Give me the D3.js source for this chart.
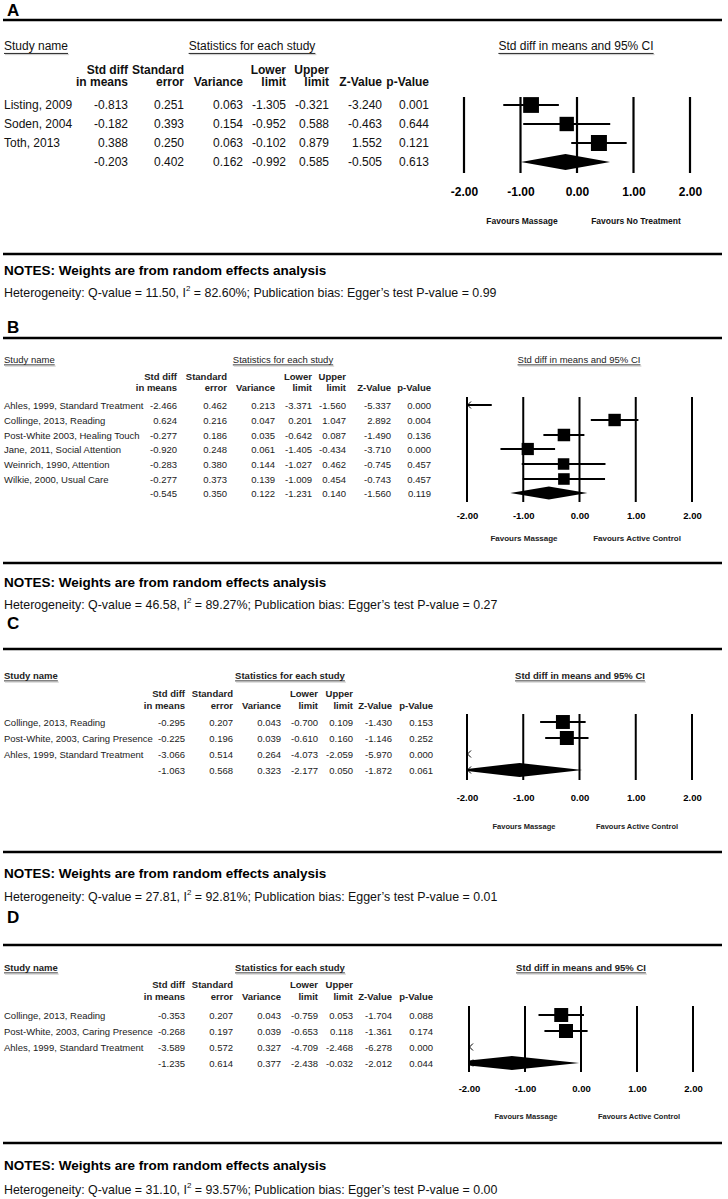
<!DOCTYPE html>
<html><head><meta charset="utf-8">
<script src="https://cdn.jsdelivr.net/npm/d3@7"></script>
<style>html,body{margin:0;padding:0;background:#fff}svg{display:block;font-family:"Liberation Sans",Arial,sans-serif}</style>
</head><body>
<svg id="c" width="728" height="1199"></svg>
<script>
// ---------- DATA ----------
const tickValues = [-2, -1, 0, 1, 2];
const colHeaders1 = ["Std diff", "Standard", "", "Lower", "Upper", "", ""];
const colHeaders2 = ["in means", "error", "Variance", "limit", "limit", "Z-Value", "p-Value"];

const studiesA = ["Listing, 2009", "Soden, 2004", "Toth, 2013"];
const smdA   = [-0.813, -0.182, 0.388, -0.203];
const seA    = [0.251, 0.393, 0.250, 0.402];
const varA   = [0.063, 0.154, 0.063, 0.162];
const lowerA = [-1.305, -0.952, -0.102, -0.992];
const upperA = [-0.321, 0.588, 0.879, 0.585];
const zA     = [-3.240, -0.463, 1.552, -0.505];
const pA     = [0.001, 0.644, 0.121, 0.613];
const weightA = [35, 29, 36];

const studiesB = ["Ahles, 1999, Standard Treatment", "Collinge, 2013, Reading", "Post-White 2003, Healing Touch",
  "Jane, 2011, Social Attention", "Weinrich, 1990, Attention", "Wilkie, 2000, Usual Care"];
const smdB   = [-2.466, 0.624, -0.277, -0.920, -0.283, -0.277, -0.545];
const seB    = [0.462, 0.216, 0.186, 0.248, 0.380, 0.373, 0.350];
const varB   = [0.213, 0.047, 0.035, 0.061, 0.144, 0.139, 0.122];
const lowerB = [-3.371, 0.201, -0.642, -1.405, -1.027, -1.009, -1.231];
const upperB = [-1.560, 1.047, 0.087, -0.434, 0.462, 0.454, 0.140];
const zB     = [-5.337, 2.892, -1.490, -3.710, -0.745, -0.743, -1.560];
const pB     = [0.000, 0.004, 0.136, 0.000, 0.457, 0.457, 0.119];
const weightB = [15.5, 17.9, 18.2, 17.4, 15.4, 15.6];

const studiesC = ["Collinge, 2013, Reading", "Post-White, 2003, Caring Presence", "Ahles, 1999, Standard Treatment"];
const smdC   = [-0.295, -0.225, -3.066, -1.063];
const seC    = [0.207, 0.196, 0.514, 0.568];
const varC   = [0.043, 0.039, 0.264, 0.323];
const lowerC = [-0.700, -0.610, -4.073, -2.177];
const upperC = [0.109, 0.160, -2.059, 0.050];
const zC     = [-1.430, -1.146, -5.970, -1.872];
const pC     = [0.153, 0.252, 0.000, 0.061];
const weightC = [34.7, 35.0, 30.3];

const studiesD = ["Collinge, 2013, Reading", "Post-White, 2003, Caring Presence", "Ahles, 1999, Standard Treatment"];
const smdD   = [-0.353, -0.268, -3.589, -1.235];
const seD    = [0.207, 0.197, 0.572, 0.614];
const varD   = [0.043, 0.039, 0.327, 0.377];
const lowerD = [-0.759, -0.653, -4.709, -2.438];
const upperD = [0.053, 0.118, -2.468, -0.032];
const zD     = [-1.704, -1.361, -6.278, -2.012];
const pD     = [0.088, 0.174, 0.000, 0.044];
const weightD = [34.9, 35.1, 30.0];

const panelLetters = ["A", "B", "C", "D"];
const favoursLeft = ["Favours Massage", "Favours Massage", "Favours Massage", "Favours Massage"];
const favoursRight = ["Favours No Treatment", "Favours Active Control", "Favours Active Control", "Favours Active Control"];
const qValues = [11.50, 46.58, 27.81, 31.10];
const i2Values = [82.60, 89.27, 92.81, 93.57];
const eggerP = [0.99, 0.27, 0.01, 0.00];

// ---------- LAYOUT ----------
const layouts = [
  {letterY:10, topLine:20, titleY:46, h1:70, h2:82, rows:[105,124,143,162], cols:[128,184,243,286,329,382,429],
   fx:[464,690], fTop:97, fBot:173, tickY:192, favY:221, favX:[522,636], botLine:254, notesY:270, hetY:293,
   fs:12, hfs:12, tfs:12, titleBold:false, tickFs:12, favFs:8.5, sqMax:16, dH:16, lw:2.2, statsX:252, forestX:576, textCol:"#111"},
  {letterY:327, topLine:338, titleY:359, h1:376, h2:387, rows:[405,420,435,449,464,479,493], cols:[177,227,275,312,346,391,431],
   fx:[467,692], fTop:397, fBot:502, tickY:515, favY:538, favX:[524,637], botLine:563, notesY:582, hetY:605,
   fs:9.5, hfs:9.5, tfs:9.5, titleBold:false, tickFs:9.5, favFs:8, sqMax:12.5, dH:13, lw:2, statsX:283, forestX:579, textCol:"#222"},
  {letterY:623, topLine:649, titleY:675, h1:693, h2:705, rows:[722,738,754,770], cols:[185,233,281,318,353,392,433],
   fx:[467,692], fTop:714, fBot:780, tickY:797, favY:826, favX:[524,637], botLine:852, notesY:873, hetY:897,
   fs:9.5, hfs:9.5, tfs:9.5, titleBold:true, tickFs:9.5, favFs:7.5, sqMax:14, dH:14, lw:2, statsX:290, forestX:580, textCol:"#222"},
  {letterY:917, topLine:945, titleY:967, h1:984, h2:996, rows:[1015,1031,1047,1063], cols:[185,233,281,318,353,392,433],
   fx:[469,693], fTop:1006, fBot:1072, tickY:1088, favY:1116, favX:[526,639], botLine:1143, notesY:1165, hetY:1190,
   fs:9.5, hfs:9.5, tfs:9.5, titleBold:true, tickFs:9.5, favFs:7.5, sqMax:14, dH:14, lw:2, statsX:290, forestX:581, textCol:"#222"}
];

const panels = [
  {studies:studiesA, cols:[smdA,seA,varA,lowerA,upperA,zA,pA], smd:smdA, lower:lowerA, upper:upperA, weight:weightA},
  {studies:studiesB, cols:[smdB,seB,varB,lowerB,upperB,zB,pB], smd:smdB, lower:lowerB, upper:upperB, weight:weightB},
  {studies:studiesC, cols:[smdC,seC,varC,lowerC,upperC,zC,pC], smd:smdC, lower:lowerC, upper:upperC, weight:weightC},
  {studies:studiesD, cols:[smdD,seD,varD,lowerD,upperD,zD,pD], smd:smdD, lower:lowerD, upper:upperD, weight:weightD}
];

const svg = d3.select("#c");
const fmt = v => v.toFixed(3);

function underlinedText(g, x, y, txt, size, bold, anchor, col) {
  const t = g.append("text").attr("x", x).attr("y", y).attr("dominant-baseline", "central")
    .attr("text-anchor", anchor).attr("font-size", size).attr("font-weight", bold ? "bold" : "normal")
    .attr("fill", col).text(txt);
  const w = t.node().getComputedTextLength();
  const x0 = anchor === "middle" ? x - w / 2 : x;
  g.append("line").attr("x1", x0).attr("x2", x0 + w).attr("y1", y + size * 0.62).attr("y2", y + size * 0.62)
    .attr("stroke", col).attr("stroke-width", 0.9);
  g.append("line").attr("x1", x0 + 1).attr("x2", x0 + w + 1).attr("y1", y + size * 0.62 + 1.2).attr("y2", y + size * 0.62 + 1.2)
    .attr("stroke", "#bbb").attr("stroke-width", 0.8);
}

panels.forEach((P, pi) => {
  const L = layouts[pi];
  const g = svg.append("g");
  const col = L.textCol;
  g.append("text").attr("x", 7).attr("y", L.letterY).attr("dominant-baseline", "central")
    .attr("font-size", 17).attr("font-weight", "bold").text(panelLetters[pi]);
  g.append("line").attr("x1", 3).attr("x2", 722).attr("y1", L.topLine).attr("y2", L.topLine)
    .attr("stroke", "#000").attr("stroke-width", 2.6);
  underlinedText(g, 4, L.titleY, "Study name", L.tfs, L.titleBold, "start", col);
  underlinedText(g, L.statsX, L.titleY, "Statistics for each study", L.tfs, L.titleBold, "middle", col);
  underlinedText(g, L.forestX, L.titleY, "Std diff in means and 95% CI", L.tfs, L.titleBold, "middle", col);
  colHeaders1.forEach((h, i) => {
    g.append("text").attr("x", L.cols[i]).attr("y", L.h1).attr("dominant-baseline", "central").attr("text-anchor", "end")
      .attr("font-size", L.hfs).attr("font-weight", "bold").attr("fill", col).text(h);
    g.append("text").attr("x", L.cols[i]).attr("y", L.h2).attr("dominant-baseline", "central").attr("text-anchor", "end")
      .attr("font-size", L.hfs).attr("font-weight", "bold").attr("fill", col).text(colHeaders2[i]);
  });
  const nRows = P.smd.length;
  d3.range(nRows).forEach(r => {
    if (r < P.studies.length) {
      g.append("text").attr("x", 4).attr("y", L.rows[r]).attr("dominant-baseline", "central")
        .attr("font-size", L.fs).attr("fill", col).text(P.studies[r]);
    }
    P.cols.forEach((arr, ci) => {
      g.append("text").attr("x", L.cols[ci]).attr("y", L.rows[r]).attr("dominant-baseline", "central").attr("text-anchor", "end")
        .attr("font-size", L.fs).attr("fill", col).text(fmt(arr[r]));
    });
  });
  const x = d3.scaleLinear().domain([tickValues[0], tickValues[tickValues.length - 1]]).range(L.fx);
  const [dMin, dMax] = x.domain();
  const clamp = v => Math.max(dMin, Math.min(dMax, v));
  const axis = d3.axisBottom(x).tickValues(tickValues).tickSize(0).tickFormat(d => d.toFixed(2));
  const ax = g.append("g").attr("transform", `translate(0,${L.tickY})`).call(axis);
  ax.select(".domain").remove();
  ax.selectAll("text").attr("y", 0).attr("dy", null).attr("dominant-baseline", "central")
    .attr("font-size", L.tickFs).attr("font-weight", "bold").attr("font-family", "Liberation Sans, Arial, sans-serif").attr("fill", "#000");
  g.selectAll(".vl").data(tickValues).enter().append("line")
    .attr("x1", d => x(d)).attr("x2", d => x(d)).attr("y1", L.fTop).attr("y2", L.fBot)
    .attr("stroke", "#000").attr("stroke-width", L.lw);
  const size = d3.scaleSqrt().domain([0, d3.max(P.weight)]).range([0, L.sqMax]);
  const arrow = (y) => {
    const x0 = x(dMin);
    g.append("path").attr("d", `M${x0 + 4},${y - 3.5}L${x0 + 0.5},${y}L${x0 + 4},${y + 3.5}`)
      .attr("fill", "none").attr("stroke", "#000").attr("stroke-width", 1);
  };
  P.studies.forEach((s, r) => {
    const y = L.rows[r];
    const lo = P.lower[r], hi = P.upper[r], m = P.smd[r];
    if (hi >= dMin && lo <= dMax) {
      g.append("line").attr("x1", x(clamp(lo))).attr("x2", x(clamp(hi))).attr("y1", y).attr("y2", y)
        .attr("stroke", "#000").attr("stroke-width", L.lw);
    }
    if (lo < dMin) arrow(y);
    if (m >= dMin && m <= dMax) {
      const sz = size(P.weight[r]);
      g.append("rect").attr("x", x(m) - sz / 2).attr("y", y - sz / 2).attr("width", sz).attr("height", sz).attr("fill", "#000");
    }
  });
  const sr = nRows - 1, sy = L.rows[sr];
  const slo = P.lower[sr], shi = P.upper[sr], sm = P.smd[sr], hh = L.dH / 2;
  const pts = [];
  if (slo < dMin) {
    const f = (dMin - slo) / (sm - slo) * hh;
    pts.push([x(dMin), sy + f], [x(dMin), sy - f]);
  } else pts.push([x(slo), sy]);
  pts.push([x(sm), sy - hh]);
  pts.push([x(shi), sy]);
  pts.push([x(sm), sy + hh]);
  g.append("path").attr("d", "M" + pts.map(p => p.join(",")).join("L") + "Z").attr("fill", "#000");
  if (slo < dMin) arrow(sy);
  g.append("text").attr("x", L.favX[0]).attr("y", L.favY).attr("dominant-baseline", "central").attr("text-anchor", "middle")
    .attr("font-size", L.favFs).attr("font-weight", "bold").attr("fill", col).text(favoursLeft[pi]);
  g.append("text").attr("x", L.favX[1]).attr("y", L.favY).attr("dominant-baseline", "central").attr("text-anchor", "middle")
    .attr("font-size", L.favFs).attr("font-weight", "bold").attr("fill", col).text(favoursRight[pi]);
  g.append("line").attr("x1", 3).attr("x2", 722).attr("y1", L.botLine).attr("y2", L.botLine)
    .attr("stroke", "#000").attr("stroke-width", 2.6);
  g.append("text").attr("x", 4).attr("y", L.notesY).attr("dominant-baseline", "central")
    .attr("font-size", 13.5).attr("font-weight", "bold").text("NOTES: Weights are from random effects analysis");
  const ht = g.append("text").attr("x", 4).attr("y", L.hetY).attr("dominant-baseline", "central")
    .attr("font-size", 12.4).attr("fill", "#111");
  ht.append("tspan").text(`Heterogeneity: Q-value = ${qValues[pi].toFixed(2)}, I`);
  ht.append("tspan").attr("font-size", 8).attr("dy", -5).text("2");
  ht.append("tspan").attr("dy", 5).text(` = ${i2Values[pi].toFixed(2)}%; Publication bias: Egger\u2019s test P-value = ${eggerP[pi].toFixed(2)}`);
});
</script>
</body></html>
